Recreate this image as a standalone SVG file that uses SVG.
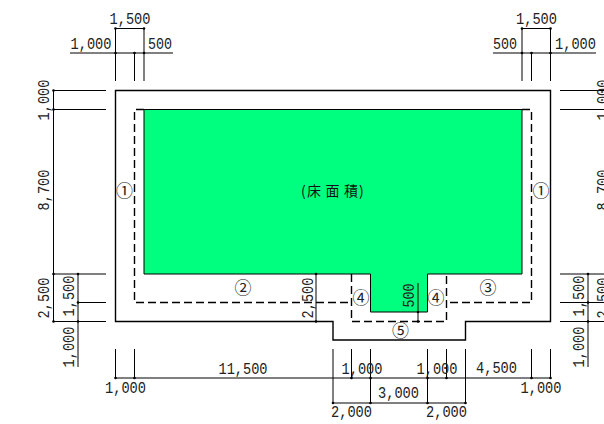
<svg xmlns="http://www.w3.org/2000/svg" width="604" height="424" viewBox="0 0 604 424">
<defs><style>
.l{stroke:#000;stroke-width:1;fill:none}
.h{stroke:#000;stroke-width:1.4;fill:none}
.d{stroke:#000;stroke-width:1.4;fill:none;stroke-dasharray:8 4}
.t{font-family:"Liberation Mono",monospace;font-size:17px;fill:#222;text-anchor:middle}
.c{font-family:"Noto Sans CJK JP",sans-serif;font-size:17px;fill:#222;text-anchor:middle}
.a{font-family:"Noto Sans CJK JP",sans-serif;font-size:14px;fill:#111}
.p{fill:#000}
</style></defs>
<rect width="604" height="424" fill="#fff"/>
<g id="floor-area">
<path d="M144 109.500H522V274H427.500V312H370.500V274H144Z" fill="#00ff7f" stroke="#000" stroke-width="1"/>
<text class="a" x="301 307 325.500 344 359" y="196">(床面積)</text>
</g>
<g id="outline">
<path class="h" d="M115.500 90.500H550.500V321.500H465.500V340H333V321.500H115.500Z"/>
<path d="M336 321.500H462" stroke="#fff" stroke-width="2.500"/>
<path class="d" d="M144 109.500H134.500V302.500H351.500"/>
<path class="d" d="M522 109.500H531.500V302.500H446.500"/>
<path class="d" d="M351.500 274V321.500H446.500V274"/>
</g>
<g id="connectors">
<path class="l" d="M115.500 28.500H144M522 28.500H550.500"/>
<path class="l" d="M70 53H173M115.500 28.500V81M134.500 53V81M144 28.500V81"/>
<path class="l" d="M493 53H596M522 28.500V81M531.500 53V81M550.500 28.500V81"/>
<path class="l" d="M53.500 90.500V321.500M53 90.500H106M53 109.500H106M53 274H106M78 302.500H106M53 321.500H106M78 274V367"/>
<path class="l" d="M560 90.500H604M560 109.500H604M560 274H604M560 302.500H604M560 321.500H604M588 274V367"/>
<path class="l" d="M115.500 378H550.500M333 403H465.500"/>
<path class="l" d="M115.500 349V378M134.500 349V378M333 349V403M351.500 349V378M370.500 349V403M427.500 349V403M446.500 349V378M465.500 349V403M531.500 349V378M550.500 349V378"/>
<path class="l" d="M316 274V321.500M418 283V321.500"/>
<g class="p">
<circle cx="115.500" cy="28.500" r="1.300"/><circle cx="144" cy="28.500" r="1.300"/><circle cx="522" cy="28.500" r="1.300"/><circle cx="550.500" cy="28.500" r="1.300"/>
<circle cx="115.500" cy="53" r="1.300"/><circle cx="134.500" cy="53" r="1.300"/><circle cx="144" cy="53" r="1.300"/>
<circle cx="522" cy="53" r="1.300"/><circle cx="531.500" cy="53" r="1.300"/><circle cx="550.500" cy="53" r="1.300"/>
<circle cx="53.500" cy="90.500" r="1.300"/><circle cx="53.500" cy="109.500" r="1.300"/><circle cx="53.500" cy="274" r="1.300"/><circle cx="53.500" cy="321.500" r="1.300"/>
<circle cx="78" cy="274" r="1.300"/><circle cx="78" cy="302.500" r="1.300"/><circle cx="78" cy="321.500" r="1.300"/>
<circle cx="588" cy="274" r="1.300"/><circle cx="588" cy="302.500" r="1.300"/><circle cx="588" cy="321.500" r="1.300"/>
<circle cx="115.500" cy="378" r="1.300"/><circle cx="134.500" cy="378" r="1.300"/><circle cx="351.500" cy="378" r="1.300"/><circle cx="370.500" cy="378" r="1.300"/><circle cx="427.500" cy="378" r="1.300"/><circle cx="446.500" cy="378" r="1.300"/><circle cx="531.500" cy="378" r="1.300"/><circle cx="550.500" cy="378" r="1.300"/>
<circle cx="333" cy="403" r="1.300"/><circle cx="370.500" cy="403" r="1.300"/><circle cx="427.500" cy="403" r="1.300"/><circle cx="465.500" cy="403" r="1.300"/>
<circle cx="316" cy="274" r="1.300"/><circle cx="316" cy="321.500" r="1.300"/><circle cx="418" cy="312" r="1.300"/><circle cx="418" cy="321.500" r="1.300"/>
</g>
</g>
<g id="dimension-labels">
<text class="t" x="130" y="24" textLength="41" lengthAdjust="spacingAndGlyphs">1,500</text><text class="t" x="91" y="49" textLength="41" lengthAdjust="spacingAndGlyphs">1,000</text><text class="t" x="160" y="49" textLength="24" lengthAdjust="spacingAndGlyphs">500</text>
<text class="t" x="536.500" y="24" textLength="41" lengthAdjust="spacingAndGlyphs">1,500</text><text class="t" x="505" y="49" textLength="24" lengthAdjust="spacingAndGlyphs">500</text><text class="t" x="575.500" y="49" textLength="41" lengthAdjust="spacingAndGlyphs">1,000</text>
<text class="t" transform="translate(49 100) rotate(-90)" textLength="41" lengthAdjust="spacingAndGlyphs">1,000</text>
<text class="t" transform="translate(49 190) rotate(-90)" textLength="41" lengthAdjust="spacingAndGlyphs">8,700</text>
<text class="t" transform="translate(49 298) rotate(-90)" textLength="41" lengthAdjust="spacingAndGlyphs">2,500</text>
<text class="t" transform="translate(74 296) rotate(-90)" textLength="41" lengthAdjust="spacingAndGlyphs">1,500</text>
<text class="t" transform="translate(74 347) rotate(-90)" textLength="41" lengthAdjust="spacingAndGlyphs">1,000</text>
<text class="t" transform="translate(584 296) rotate(-90)" textLength="41" lengthAdjust="spacingAndGlyphs">1,500</text>
<text class="t" transform="translate(584 347) rotate(-90)" textLength="41" lengthAdjust="spacingAndGlyphs">1,000</text>
<text class="t" transform="translate(608 100) rotate(-90)" textLength="41" lengthAdjust="spacingAndGlyphs">1,000</text>
<text class="t" transform="translate(608 190) rotate(-90)" textLength="41" lengthAdjust="spacingAndGlyphs">8,700</text>
<text class="t" transform="translate(608 298) rotate(-90)" textLength="41" lengthAdjust="spacingAndGlyphs">2,500</text>
<text class="t" transform="translate(313 298) rotate(-90)" textLength="41" lengthAdjust="spacingAndGlyphs">2,500</text>
<text class="t" transform="translate(414 295.500) rotate(-90)" textLength="24" lengthAdjust="spacingAndGlyphs">500</text>
<text class="t" x="125.500" y="393" textLength="41" lengthAdjust="spacingAndGlyphs">1,000</text><text class="t" x="243" y="374" textLength="49" lengthAdjust="spacingAndGlyphs">11,500</text>
<text class="t" x="362" y="374" textLength="41" lengthAdjust="spacingAndGlyphs">1,000</text><text class="t" x="437" y="374" textLength="41" lengthAdjust="spacingAndGlyphs">1,000</text>
<text class="t" x="496.500" y="373" textLength="41" lengthAdjust="spacingAndGlyphs">4,500</text><text class="t" x="541" y="393" textLength="41" lengthAdjust="spacingAndGlyphs">1,000</text>
<text class="t" x="398.500" y="398" textLength="41" lengthAdjust="spacingAndGlyphs">3,000</text><text class="t" x="351.500" y="417" textLength="41" lengthAdjust="spacingAndGlyphs">2,000</text><text class="t" x="446.500" y="417" textLength="41" lengthAdjust="spacingAndGlyphs">2,000</text>
</g>
<g id="zone-labels">
<text class="c" x="124.500" y="197">①</text><text class="c" x="541" y="197">①</text>
<text class="c" x="243" y="294">②</text><text class="c" x="488" y="294">③</text>
<text class="c" x="361" y="304">④</text><text class="c" x="436" y="304">④</text>
<text class="c" x="400.500" y="337">⑤</text>
</g>
</svg>
